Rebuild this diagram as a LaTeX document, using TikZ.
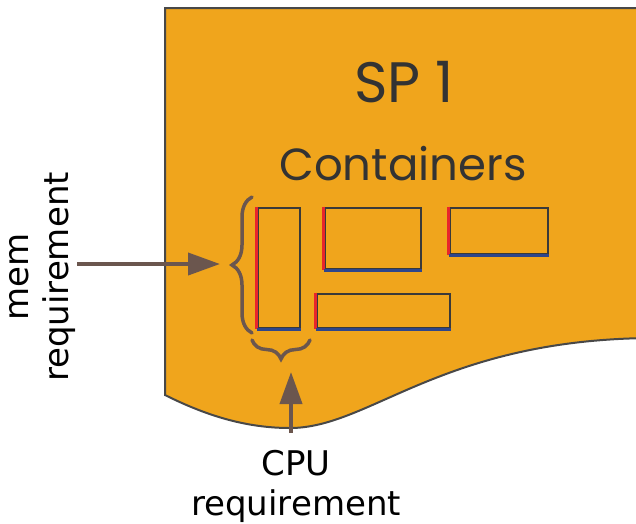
\documentclass[tikz,border=0pt]{standalone}
\usepackage{fontspec}
\setmainfont{DejaVu Sans}
\newfontfamily\headfont{Poppins}
\usetikzlibrary{arrows.meta,decorations.pathreplacing}

\definecolor{spfill}{RGB}{240,165,28}
\definecolor{spedge}{RGB}{72,72,72}
\definecolor{bracecol}{RGB}{107,86,78}
\definecolor{boxedge}{RGB}{58,58,58}
\definecolor{memside}{RGB}{232,38,43}
\definecolor{cpuside}{RGB}{46,70,140}
\definecolor{headtext}{RGB}{51,51,51}

\begin{document}
\begin{tikzpicture}[x=1pt,y=-1pt,
    every node/.style={inner sep=0pt},
    sheet/.style={fill=spfill, draw=spedge, line width=2pt},
    head/.style={font=\headfont\fontsize{57}{60}\selectfont, text=headtext},
    subhead/.style={font=\headfont\fontsize{45}{50}\selectfont, text=headtext},
    reqlabel/.style={font=\fontsize{34}{40}\selectfont, align=center},
    ctr/.style={draw=boxedge, line width=2.6pt},
    memedge/.style={draw=memside, line width=3pt},
    cpuedge/.style={draw=cpuside, line width=3pt},
    reqbrace/.style={draw=bracecol, line width=3.5pt, line cap=round,
        decorate, decoration={brace, amplitude=#1}},
    reqarrow/.style={draw=bracecol, line width=4pt,
        -{Triangle[length=32pt,width=22pt]}}]
    \useasboundingbox (0,0) rectangle (636,523);
    % the service provider sheet
    \draw [sheet] (165,395) -- (165,8) -- (650,8) -- (650,338)
        .. controls (440,340) and (370,428) .. (290,428)
        .. controls (245,428) and (205,415) .. (165,395) -- cycle;
    \node [head, anchor=base] (sp) at (404,102) {SP 1};
    \node [subhead, anchor=base] (cont) at (403,180) {Containers};
    % containers
    \node [ctr, minimum width=42pt, minimum height=120pt] (c1) at (279,268) {};
    \node [ctr, minimum width=96pt, minimum height=61pt] (c2) at (373,238.5) {};
    \node [ctr, minimum width=98pt, minimum height=46pt] (c3) at (499,231) {};
    \node [ctr, minimum width=133pt, minimum height=34pt] (c4) at (383.5,311) {};
    \draw [memedge] (c1.north west) -- (c1.south west);
    \draw [cpuedge] (c1.south west) -- (c1.south east);
    \draw [memedge] (c2.north west) -- (c2.south west);
    \draw [cpuedge] (c2.south west) -- (c2.south east);
    \draw [memedge] (c3.north west) -- (c3.south west);
    \draw [cpuedge] (c3.south west) -- (c3.south east);
    \draw [memedge] (c4.north west) -- (c4.south west);
    \draw [cpuedge] (c4.south west) -- (c4.south east);
    % braces
    \draw [reqbrace=20pt] (252,333) -- (252,197);
    \draw [reqbrace=19pt] (310,340) -- (252,340);
    % requirements
    \node [reqlabel, rotate=90] (memlabel) at (43,277) {mem\\requirement};
    \node [reqlabel] (cpulabel) at (296,486) {CPU\\requirement};
    \coordinate (memtail) at (77,264);
    \coordinate (memtip) at (220,264);
    \coordinate (cputail) at (291,433);
    \coordinate (cputip) at (291,372);
    \draw [reqarrow] (memtail) -- (memtip);
    \draw [reqarrow] (cputail) -- (cputip);
\end{tikzpicture}
\end{document}
